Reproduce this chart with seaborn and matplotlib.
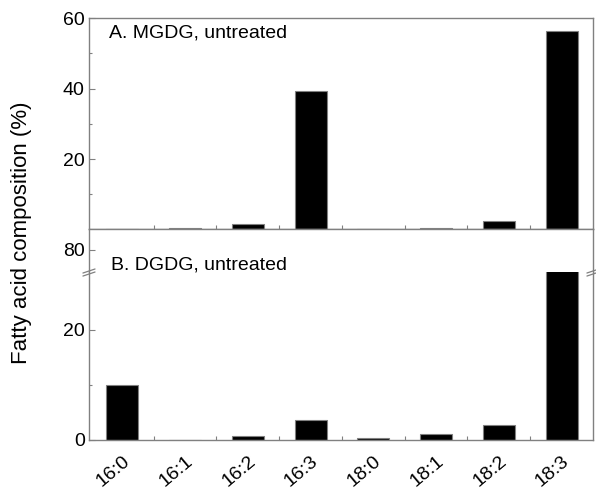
import numpy as np
import pandas as pd
import matplotlib
matplotlib.use('Agg')
import matplotlib.pyplot as plt
from matplotlib.ticker import FixedLocator
import seaborn as sns

# Fatty acid species on the x axis
acids = ['16:0', '16:1', '16:2', '16:3', '18:0', '18:1', '18:2', '18:3']
# Composition (%)
mgdg = [0.2, 0.4, 1.7, 39.2, 0.2, 0.4, 2.4, 56.2]
dgdg = [9.9, 0.0, 0.8, 3.7, 0.3, 1.1, 2.8, 72.0]

sns.set_style('ticks')
plt.rcParams['font.family'] = ['Liberation Sans', 'DejaVu Sans']
plt.rcParams['text.color'] = 'black'

edge = '#808080'
fig = plt.figure(figsize=(5.96, 4.91), dpi=100)

# Axes boxes in figure fractions (top panel, upper stub of broken axis, lower part)
ax_a = fig.add_axes([0.1493, 0.5326, 0.8456, 0.4307])
ax_b_hi = fig.add_axes([0.1493, 0.4460, 0.8456, 0.0866])
ax_b_lo = fig.add_axes([0.1493, 0.1039, 0.8456, 0.3421])

df_a = pd.DataFrame({'acid': acids, 'value': mgdg})
df_b = pd.DataFrame({'acid': acids, 'value': dgdg})

sns.barplot(data=df_a, x='acid', y='value', ax=ax_a, color='black',
            edgecolor=edge, linewidth=0.8, width=0.51)
sns.barplot(data=df_b, x='acid', y='value', ax=ax_b_hi, color='black',
            edgecolor=edge, linewidth=0.8, width=0.51)
sns.barplot(data=df_b, x='acid', y='value', ax=ax_b_lo, color='black',
            edgecolor=edge, linewidth=0.8, width=0.51)

ax_a.set_ylim(0, 60)
ax_b_hi.set_ylim(76, 83.7)
ax_b_lo.set_ylim(0, 30.5)

for ax in (ax_a, ax_b_hi, ax_b_lo):
    ax.set_xlim(-0.53, 7.5)
    ax.set_xlabel('')
    ax.set_ylabel('')
    for s in ax.spines.values():
        s.set_color(edge)
        s.set_linewidth(1.0)
    ax.tick_params(axis='both', which='both', direction='in', color=edge,
                   labelsize=14, labelcolor='black', width=0.8)
    ax.tick_params(axis='y', which='major', length=4, pad=3)
    ax.tick_params(axis='y', which='minor', length=2)
    ax.tick_params(axis='x', which='major', length=0)
    ax.tick_params(axis='x', which='minor', length=3)
    ax.xaxis.set_minor_locator(FixedLocator(np.arange(0.5, 7, 1.0)))

# Top panel
ax_a.yaxis.set_major_locator(FixedLocator([20, 40, 60]))
ax_a.yaxis.set_minor_locator(FixedLocator([10, 30, 50]))
ax_a.set_xticklabels([])

# Bottom panel, upper stub
ax_b_hi.yaxis.set_major_locator(FixedLocator([80]))
ax_b_hi.yaxis.set_minor_locator(FixedLocator([]))
ax_b_hi.spines['bottom'].set_visible(False)
ax_b_hi.tick_params(axis='x', which='both', length=0, labelbottom=False)

# Bottom panel, lower part
ax_b_lo.spines['top'].set_visible(False)
ax_b_lo.yaxis.set_major_locator(FixedLocator([0, 20]))
ax_b_lo.yaxis.set_minor_locator(FixedLocator([10]))
ax_b_lo.set_xticks(range(len(acids)))
ax_b_lo.set_xticklabels(acids, rotation=40, ha='right', va='top',
                        rotation_mode='anchor', fontsize=14)
ax_b_lo.tick_params(axis='x', which='major', pad=9)

# Break marks on both side spines
for xb in (0.0, 1.0):
    for dy in (-0.012, 0.006):
        ax_b_lo.plot([xb - 0.012, xb + 0.012], [1 + dy - 0.012, 1 + dy + 0.012],
                     transform=ax_b_lo.transAxes, color=edge, lw=0.9,
                     clip_on=False)

# Panel labels
fig.text(0.183, 1 - 25 / 491, 'A. MGDG, untreated', fontsize=14,
         va='top', ha='left')
fig.text(0.186, 1 - 265 / 491, 'B. DGDG, untreated', fontsize=14,
         va='center', ha='left')

fig.text(0.036, 0.525, 'Fatty acid composition (%)', rotation=90,
         fontsize=16, ha='center', va='center')

fig.savefig('out.png', dpi=100)
